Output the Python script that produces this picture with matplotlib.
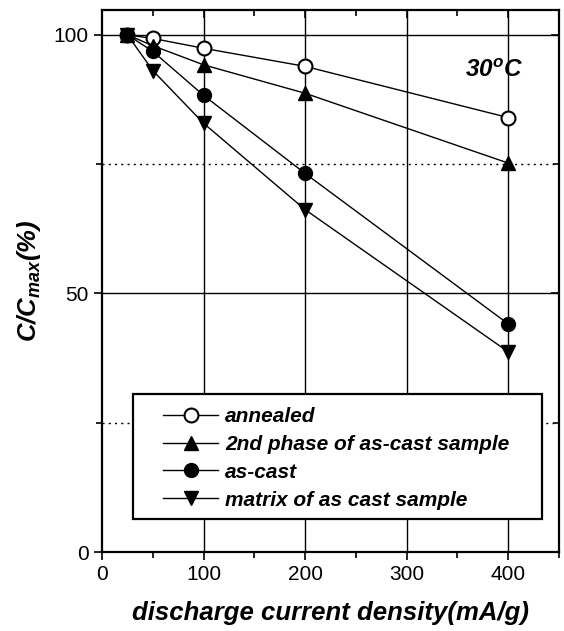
import matplotlib
matplotlib.use("Agg")
import matplotlib.pyplot as plt
from matplotlib.ticker import MultipleLocator
from matplotlib.patches import Rectangle

x = [25, 50, 100, 200, 400]
annealed = [100, 99.3, 97.4, 93.9, 84.0]
second_phase = [100, 97.9, 94.2, 88.7, 75.2]
as_cast = [100, 96.8, 88.3, 73.2, 44.1]
matrix = [100, 93.1, 82.9, 66.2, 38.7]
labels = ["annealed", "2nd phase of as-cast sample", "as-cast", "matrix of as cast sample"]

plt.rcParams['font.family'] = ['Liberation Sans', 'DejaVu Sans']
plt.rcParams['mathtext.fontset'] = 'custom'
plt.rcParams['mathtext.it'] = 'Liberation Sans:bold:italic'
plt.rcParams['mathtext.rm'] = 'Liberation Sans:bold:italic'

fig = plt.figure(figsize=(5.64, 6.31), dpi=100)
ax = fig.add_axes([102/564, 1-552/631, 457/564, 542/631])

ax.set_xlim(0, 450)
ax.set_ylim(0, 104.8)

# grid
for gx in [100, 200, 300, 400]:
    ax.axvline(gx, color='black', lw=1.0, zorder=1)
for gy in [50, 100]:
    ax.axhline(gy, color='black', lw=1.0, zorder=1)
for gy in [25, 75]:
    ax.axhline(gy, color='black', lw=1.0, ls=(0, (1.5, 3)), zorder=1)

kw = dict(color='black', lw=1.0, markersize=10, zorder=3)
ax.plot(x, annealed, marker='o', mfc='white', mec='black', mew=1.5, label=labels[0], **kw)
ax.plot(x, second_phase, marker='^', mfc='black', label=labels[1], **kw)
ax.plot(x, as_cast, marker='o', mfc='black', label=labels[2], **kw)
ax.plot(x, matrix, marker='v', mfc='black', label=labels[3], **kw)

ax.xaxis.set_major_locator(MultipleLocator(100))
ax.xaxis.set_minor_locator(MultipleLocator(50))
ax.yaxis.set_major_locator(MultipleLocator(50))
ax.yaxis.set_minor_locator(MultipleLocator(25))
ax.tick_params(which='both', direction='out', top=True, right=True, labelsize=15, width=1.2)
ax.tick_params(which='major', length=6)
ax.tick_params(which='minor', length=4)
for t in ax.xaxis.get_major_ticks() + ax.xaxis.get_minor_ticks():
    t.tick2line.set_marker(3)
for t in ax.yaxis.get_major_ticks() + ax.yaxis.get_minor_ticks():
    t.tick2line.set_marker(0)

for s in ax.spines.values():
    s.set_linewidth(1.6)

ax.set_xlabel("discharge current density(mA/g)", fontsize=18.5, fontweight='bold', style='italic', labelpad=12)
ax.set_ylabel("C/C$_{max}$(%)", fontsize=18.5, fontweight='bold', style='italic', labelpad=8)

ax.text(0.921, 0.889, "30$^{o}$C", transform=ax.transAxes, fontsize=17.5,
        fontweight='bold', style='italic', ha='right', va='center')

# legend frame
ax.add_patch(Rectangle((0.0678, 0.0609), 0.9628 - 0.0678, 0.2915 - 0.0609,
                       transform=ax.transAxes, facecolor='white', edgecolor='black',
                       lw=1.6, zorder=4))

leg = ax.legend(loc='center left', bbox_to_anchor=(0.1335, 0.1729),
                fontsize=15, frameon=False, handlelength=2.64,
                borderaxespad=0, labelspacing=0.43, handletextpad=0.34, borderpad=0)
for t in leg.get_texts():
    t.set_fontweight('bold')
    t.set_style('italic')
leg.set_zorder(5)

fig.savefig("out.png", dpi=100)
